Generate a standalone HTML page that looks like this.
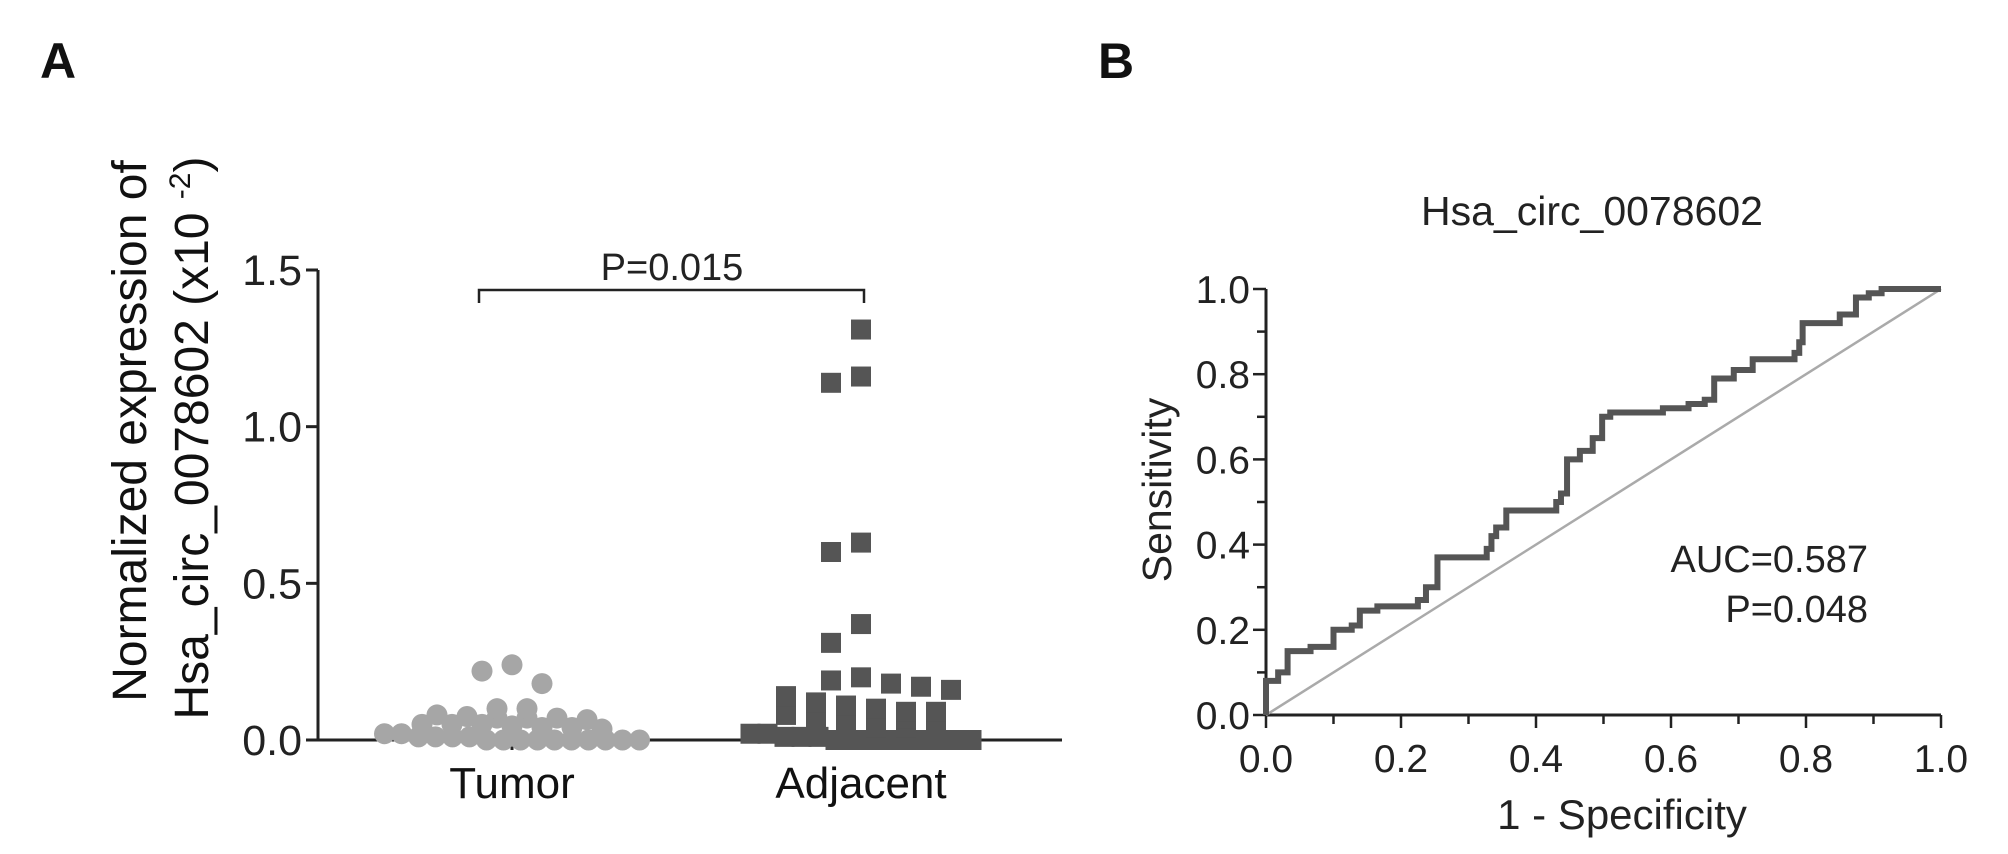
<!DOCTYPE html>
<html><head><meta charset="utf-8">
<style>
html,body{margin:0;padding:0;background:#fff;}
svg{display:block;font-family:"Liberation Sans",Arial,sans-serif;}
</style></head>
<body>
<svg id="fig" width="2008" height="854" viewBox="0 0 2008 854">
  <text x="40" y="78" font-size="50" font-weight="bold" fill="#111">A</text>
  <text x="1098" y="78" font-size="50" font-weight="bold" fill="#111">B</text>
  <g id="panelA"></g>
  <g id="panelB"></g>
</svg>
<script>
// ---------- Panel A data ----------
const groupNames = ["Tumor", "Adjacent"];
const tumorValues = [0.24,0.22,0.18,0.10,0.10,0.08,0.075,0.07,0.07,0.07,0.065,0.05,0.05,0.05,0.045,0.04,0.04,0.035,0.02,0.02,0.01,0.01,0.01,0.01,0,0,0,0,0,0,0,0,0,0];
const adjacentValues = [1.31,1.16,1.14,0.63,0.60,0.37,0.31,0.20,0.19,0.18,0.17,0.16,0.14,0.12,0.11,0.10,0.09,0.09,0.08,0.08,0.08,0.075,0.07,0.06,0.05,0.05,0.04,0.04,0.02,0.02,0.01,0.01,0.01,0,0,0,0,0,0,0,0,0];
const yTicksA = [0, 0.5, 1.0, 1.5];
const yTickLabelsA = ["0.0", "0.5", "1.0", "1.5"];
const pValueA = "P=0.015";

// ---------- Panel B data ----------
const rocFpr = [0,0.018,0.032,0.066,0.10,0.127,0.139,0.165,0.225,0.237,0.254,0.327,0.334,0.341,0.356,0.37,0.43,0.437,0.446,0.465,0.484,0.498,0.51,0.531,0.588,0.626,0.65,0.664,0.693,0.721,0.783,0.79,0.795,0.802,0.85,0.874,0.893,0.912,1.0];
const rocTpr = [0.08,0.10,0.15,0.16,0.20,0.21,0.245,0.255,0.27,0.30,0.37,0.39,0.42,0.44,0.48,0.48,0.50,0.52,0.60,0.62,0.65,0.70,0.71,0.71,0.72,0.73,0.74,0.79,0.81,0.835,0.85,0.875,0.92,0.92,0.94,0.98,0.99,1.0,1.0];
const xTicksB = [0,0.2,0.4,0.6,0.8,1.0];
const yTicksB = [0,0.2,0.4,0.6,0.8,1.0];
const aucText = "AUC=0.587";
const pValueB = "P=0.048";

const NS = "http://www.w3.org/2000/svg";
function mk(parent, tag, attrs, text) {
  const e = document.createElementNS(NS, tag);
  for (const k in attrs) e.setAttribute(k, attrs[k]);
  if (text !== undefined) e.textContent = text;
  parent.appendChild(e);
  return e;
}

// ===== Panel A =====
const A = document.getElementById("panelA");
const axA = {x0: 318, x1: 1062, y0: 740, y1: 270, vmax: 1.5};
const yA = v => axA.y0 - (v / axA.vmax) * (axA.y0 - axA.y1);
const groupX = [512, 861];

let e;
e = mk(A, "line", {x1: axA.x0, y1: axA.y1, x2: axA.x0, y2: axA.y0 + 1, stroke: "#222", "stroke-width": 3});


e = mk(A, "line", {x1: axA.x0, y1: axA.y0, x2: axA.x1, y2: axA.y0, stroke: "#222", "stroke-width": 3});



yTicksA.forEach((t, i) => {
  const y = yA(t);
  const tk = mk(A, "line", {x1: axA.x0 - 12, y1: y, x2: axA.x0, y2: y, stroke: "#222", "stroke-width": 3});
  
  
  const lb = mk(A, "text", {x: axA.x0 - 16, y: y + 15, "font-size": 43, "text-anchor": "end", fill: "#222"}, yTickLabelsA[i]);
  
  
});

groupNames.forEach((g, i) => {
  const tk = mk(A, "line", {x1: groupX[i], y1: axA.y0, x2: groupX[i], y2: axA.y0 + 10, stroke: "#222", "stroke-width": 3});
  
  
  const lb = mk(A, "text", {x: groupX[i], y: 798, "font-size": 44, "text-anchor": "middle", fill: "#111"}, g);
  
  
});

// y-axis title (two lines, rotated)
e = mk(A, "text", {x: 0, y: 0, "font-size": 48, "text-anchor": "middle", fill: "#111", transform: "translate(146,431) rotate(-90)"}, "Normalized expression of");


e = mk(A, "text", {x: 0, y: 0, "font-size": 48, "text-anchor": "middle", fill: "#111", transform: "translate(208,438) rotate(-90)"});


mk(e, "tspan", {}, "Hsa_circ_0078602  (x10 ");
mk(e, "tspan", {"font-size": 30, dy: -18}, "-2");
mk(e, "tspan", {dy: 18}, ")");

// significance bracket
e = mk(A, "path", {d: "M479,303 L479,290 L864,290 L864,303", fill: "none", stroke: "#222", "stroke-width": 2.5});


e = mk(A, "text", {x: 672, y: 280, "font-size": 38, "text-anchor": "middle", fill: "#222"}, pValueA);



// dot-plot layout: low values binned into rows, high values swarmed
function layout(values, cx, d) {
  const placed = [];
  const rows = {};
  values.forEach(v => {
    if (v < 0.15) {
      const r = Math.min(3, Math.floor(v / 0.03 + 1e-9));
      (rows[r] = rows[r] || []).push(v);
    }
  });
  Object.keys(rows).forEach(r => {
    const arr = rows[r];
    const sp = (+r === 0) ? 17 : 30;
    arr.forEach((v, j) => {
      placed.push({x: cx + (j - (arr.length - 1) / 2) * sp, y: yA(v)});
    });
  });
  values.filter(v => v >= 0.15).sort((a, b) => b - a).forEach(v => {
    const y = yA(v);
    let best = cx;
    for (let k = 0; k < 40; k++) {
      const cands = k === 0 ? [0] : [-k * 15, k * 15];
      let found = null;
      for (const off of cands) {
        const x = cx + off;
        if (!placed.some(p => Math.abs(p.x - x) < d && Math.abs(p.y - y) < d)) { found = x; break; }
      }
      if (found !== null) { best = found; break; }
    }
    placed.push({x: best, y: y});
  });
  return placed;
}
const tPts = layout(tumorValues, groupX[0], 20);
tPts.forEach(p => {
  const c = mk(A, "circle", {cx: p.x, cy: p.y, r: 10.5, fill: "#a6a6a6"});
  
  
});
const aPts = layout(adjacentValues, groupX[1], 20);
aPts.forEach(p => {
  const r = mk(A, "rect", {x: p.x - 10, y: p.y - 10, width: 20, height: 20, fill: "#555"});
  
  
});

// ===== Panel B =====
const B = document.getElementById("panelB");
const axB = {x0: 1266, x1: 1941, y0: 715, y1: 289};
const xB = v => axB.x0 + v * (axB.x1 - axB.x0);
const yB = v => axB.y0 - v * (axB.y0 - axB.y1);

e = mk(B, "text", {x: 1592, y: 225, "font-size": 41, "text-anchor": "middle", fill: "#222"}, "Hsa_circ_0078602");



e = mk(B, "line", {x1: axB.x0, y1: axB.y1, x2: axB.x0, y2: axB.y0 + 1, stroke: "#222", "stroke-width": 3});


e = mk(B, "line", {x1: axB.x0 - 1, y1: axB.y0, x2: axB.x1, y2: axB.y0, stroke: "#222", "stroke-width": 3});



for (let i = 0; i <= 10; i++) {
  const v = i / 10;
  const major = i % 2 === 0;
  const ty = mk(B, "line", {x1: axB.x0 - (major ? 13 : 9), y1: yB(v), x2: axB.x0, y2: yB(v), stroke: "#222", "stroke-width": 2.5});
  
  
  const tx = mk(B, "line", {x1: xB(v), y1: axB.y0, x2: xB(v), y2: axB.y0 + (major ? 13 : 9), stroke: "#222", "stroke-width": 2.5});
  
  
}
yTicksB.forEach(t => {
  const lb = mk(B, "text", {x: axB.x0 - 16, y: yB(t) + 14, "font-size": 39, "text-anchor": "end", fill: "#222"}, t.toFixed(1));
  
  
});
xTicksB.forEach(t => {
  const lb = mk(B, "text", {x: xB(t), y: 772, "font-size": 39, "text-anchor": "middle", fill: "#222"}, t.toFixed(1));
  
  
});
e = mk(B, "text", {x: 1622, y: 829, "font-size": 42, "text-anchor": "middle", fill: "#222"}, "1 - Specificity");


e = mk(B, "text", {x: 0, y: 0, "font-size": 41, "text-anchor": "middle", fill: "#222", transform: "translate(1171,490) rotate(-90)"}, "Sensitivity");



// reference diagonal
e = mk(B, "line", {x1: xB(0), y1: yB(0), x2: xB(1), y2: yB(1), stroke: "#aaa", "stroke-width": 2.5});



// ROC step curve
let d = "M" + xB(0) + "," + yB(0);
rocFpr.forEach((f, i) => {
  d += " H" + xB(f) + " V" + yB(rocTpr[i]);
});
e = mk(B, "path", {d: d, fill: "none", stroke: "#555", "stroke-width": 6, "stroke-linejoin": "miter"});



e = mk(B, "text", {x: 1868, y: 572, "font-size": 38, "text-anchor": "end", fill: "#222"}, aucText);


e = mk(B, "text", {x: 1868, y: 622, "font-size": 38, "text-anchor": "end", fill: "#222"}, pValueB);


</script>
</body></html>
